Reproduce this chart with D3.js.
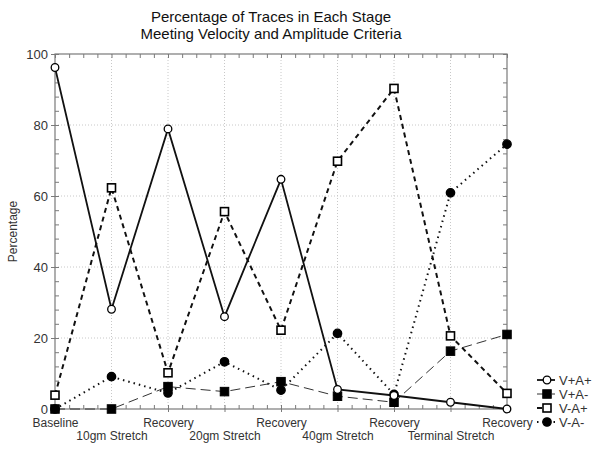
<!DOCTYPE html>
<html>
<head>
<meta charset="utf-8">
<script src="https://cdn.jsdelivr.net/npm/d3@7"></script>
<style>
  html, body { margin: 0; padding: 0; background: #fff; }
  svg { display: block; font-family: Arial, "Liberation Sans", sans-serif; }
</style>
</head>
<body>
<svg id="chart" width="600" height="450"></svg>
<script>
// ---- data ----
const categories = ["Baseline", "10gm Stretch", "Recovery", "20gm Stretch", "Recovery",
                    "40gm Stretch", "Recovery", "Terminal Stretch", "Recovery"];
const vPlusAPlus  = [96.2, 28.1, 78.9, 26.0, 64.7, 5.5, 3.8, 1.9, 0];
const vPlusAMinus = [0, 0, 6.3, 4.9, 7.7, 3.6, 1.9, 16.3, 21.0];
const vMinusAPlus = [3.9, 62.3, 10.2, 55.6, 22.2, 69.8, 90.3, 20.6, 4.4];
const vMinusAMinus = [0, 9.1, 4.5, 13.3, 5.3, 21.3, 4.1, 60.9, 74.6];
const seriesNames = ["V+A+", "V+A-", "V-A+", "V-A-"];
const yTicks = [0, 20, 40, 60, 80, 100];
const titleLines = ["Percentage of Traces in Each Stage", "Meeting Velocity and Amplitude Criteria"];
const yAxisLabel = "Percentage";

// ---- layout ----
const svg = d3.select("#chart");
const L = 55, R = 507, T = 54, B = 409;
const frameColor = "#7a7a7a";

const x = d3.scaleLinear().domain([0, categories.length - 1]).range([L, R]);
const y = d3.scaleLinear().domain([0, 100]).range([B, T]);

// grid
const grid = svg.append("g");
grid.selectAll("line.hg").data(yTicks.filter(v => v > 0 && v < 100)).join("line")
  .attr("x1", L).attr("x2", R).attr("y1", d => y(d)).attr("y2", d => y(d))
  .attr("stroke", "#c8c8c8").attr("stroke-width", 1).attr("stroke-dasharray", "1,2");
grid.selectAll("line.vg").data(d3.range(1, categories.length - 1)).join("line")
  .attr("x1", d => x(d)).attr("x2", d => x(d)).attr("y1", T).attr("y2", B)
  .attr("stroke", "#c8c8c8").attr("stroke-width", 1).attr("stroke-dasharray", "1,2");

// minor ticks
const yMinor = d3.range(0, 101, 4);
const xMinor = d3.range(0, categories.length - 1 + 0.001, 0.25);
function styleAxis(g) {
  g.select(".domain").remove();
  g.selectAll(".tick line").attr("stroke", frameColor);
  g.selectAll(".tick text").remove();
}
svg.append("g").attr("transform", `translate(${L},0)`)
  .call(d3.axisRight(y).tickValues(yMinor).tickSize(4)).call(styleAxis);
svg.append("g").attr("transform", `translate(${R},0)`)
  .call(d3.axisLeft(y).tickValues(yMinor).tickSize(4)).call(styleAxis);
svg.append("g").attr("transform", `translate(0,${B})`)
  .call(d3.axisTop(x).tickValues(xMinor).tickSize(4)).call(styleAxis);
svg.append("g").attr("transform", `translate(0,${T})`)
  .call(d3.axisBottom(x).tickValues(xMinor).tickSize(4)).call(styleAxis);

// left axis with labels
const yAx = svg.append("g").attr("transform", `translate(${L},0)`)
  .call(d3.axisLeft(y).tickValues(yTicks).tickSize(4).tickPadding(3));
yAx.select(".domain").remove();
yAx.selectAll(".tick line").attr("stroke", frameColor);
yAx.selectAll(".tick text").attr("font-size", 13).attr("fill", "#333")
  .attr("font-family", "Arial, 'Liberation Sans', sans-serif");

// bottom axis with labels (staggered)
const xAx = svg.append("g").attr("transform", `translate(0,${B})`)
  .call(d3.axisBottom(x).tickValues(d3.range(categories.length)).tickSize(3)
    .tickFormat(i => categories[i]));
xAx.select(".domain").remove();
xAx.selectAll(".tick line").attr("stroke", frameColor);
xAx.selectAll(".tick text").attr("font-size", 12).attr("fill", "#333")
  .attr("font-family", "Arial, 'Liberation Sans', sans-serif")
  .attr("y", (d) => d % 2 === 0 ? 9 : 22).attr("dy", "0.71em");

// frame
svg.append("rect").attr("x", L).attr("y", T).attr("width", R - L).attr("height", B - T)
  .attr("fill", "none").attr("stroke", frameColor).attr("stroke-width", 1.2);

// title
svg.append("g").selectAll("text").data(titleLines).join("text")
  .attr("x", 271).attr("y", (d, i) => 22 + i * 17)
  .attr("text-anchor", "middle").attr("font-size", 15).attr("fill", "#111")
  .text(d => d);

// y label
svg.append("text").attr("transform", `translate(17,${(T + B) / 2}) rotate(-90)`)
  .attr("text-anchor", "middle").attr("font-size", 12).attr("fill", "#333").text(yAxisLabel);

// series definitions
const series = [
  { name: seriesNames[0], values: vPlusAPlus, dash: null, width: 1.8, color: "#111", marker: "circle", fill: "#fff" },
  { name: seriesNames[1], values: vPlusAMinus, dash: "10,5", width: 1, color: "#333", marker: "square", fill: "#000" },
  { name: seriesNames[2], values: vMinusAPlus, dash: "5,4", width: 2, color: "#111", marker: "square", fill: "#fff" },
  { name: seriesNames[3], values: vMinusAMinus, dash: "1.5,4", width: 2, color: "#111", marker: "circle", fill: "#000" }
];

const line = d3.line().x((d, i) => x(i)).y(d => y(d));

function drawMarker(g, s, cx, cy) {
  if (s.marker === "circle") {
    g.append("circle").attr("cx", cx).attr("cy", cy)
      .attr("r", s.fill === "#000" ? 4.2 : 3.8)
      .attr("fill", s.fill).attr("stroke", "#000").attr("stroke-width", 1.3);
  } else {
    const sz = s.fill === "#000" ? 8.5 : 8;
    g.append("rect").attr("x", cx - sz / 2).attr("y", cy - sz / 2).attr("width", sz).attr("height", sz)
      .attr("fill", s.fill).attr("stroke", "#000").attr("stroke-width", s.fill === "#000" ? 1 : 1.6);
  }
}

const plot = svg.append("g");
const drawOrder = [3, 1, 2, 0];
drawOrder.forEach(k => {
  const s = series[k];
  plot.append("path").datum(s.values).attr("d", line)
    .attr("fill", "none").attr("stroke", s.color).attr("stroke-width", s.width)
    .attr("stroke-dasharray", s.dash);
});
drawOrder.forEach(k => {
  const s = series[k];
  const g = plot.append("g");
  s.values.forEach((v, i) => drawMarker(g, s, x(i), y(v)));
});

// legend
const legend = svg.append("g");
const legendRows = [380, 394, 408, 422];
series.forEach((s, k) => {
  const ly = legendRows[k];
  legend.append("line").attr("x1", 537).attr("x2", 555).attr("y1", ly).attr("y2", ly)
    .attr("stroke", s.color).attr("stroke-width", s.width).attr("stroke-dasharray", s.dash);
  drawMarker(legend, s, 547, ly);
  legend.append("text").attr("x", 559).attr("y", ly).attr("dy", "0.35em")
    .attr("font-size", 13).attr("fill", "#333").text(s.name);
});
</script>
</body>
</html>
